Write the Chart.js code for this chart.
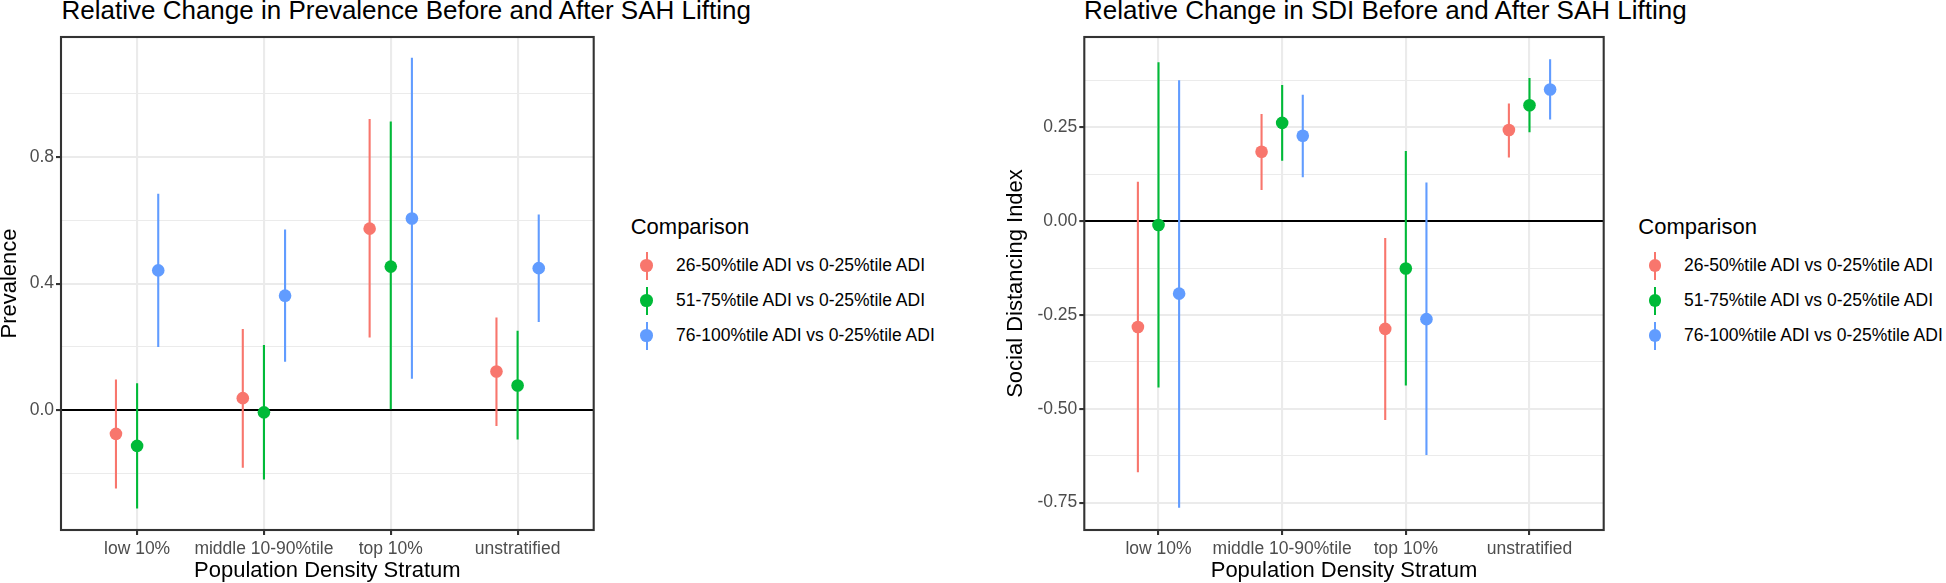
<!DOCTYPE html>
<html>
<head>
<meta charset="utf-8">
<script src="https://cdn.jsdelivr.net/npm/chart.js@4.4.1/dist/chart.umd.min.js"></script>
<style>
  html, body { margin:0; padding:0; background:#fff; width:1946px; height:583px; overflow:hidden; position:relative;
    font-family:"Liberation Sans", Arial, Helvetica, sans-serif; }
  canvas { position:absolute; top:0; }
  #c1 { left:0; }
  #c2 { left:1000px; }
  .ptitle { position:absolute; font-size:26px; line-height:26px; white-space:nowrap; color:#000; }
  .lgtitle { position:absolute; font-size:22px; line-height:22px; white-space:nowrap; color:#000; }
  .lglabel { position:absolute; font-size:17.5px; line-height:17.5px; white-space:nowrap; color:#000; }
  .kline { position:absolute; width:2.1px; height:28px; }
  .kdot { position:absolute; width:12.6px; height:12.6px; border-radius:50%; }
</style>
</head>
<body>
<div class="ptitle" style="left:61.5px; top:-3.5px;">Relative Change in Prevalence Before and After SAH Lifting</div>
<div class="ptitle" style="left:1084px; top:-3.5px;">Relative Change in SDI Before and After SAH Lifting</div>
<canvas id="c1" width="600" height="583"></canvas>
<canvas id="c2" width="610" height="583"></canvas>
<div id="leg1"></div>
<div id="leg2"></div>
<script>
// ---------- data ----------
const categories = ['low 10%', 'middle 10-90%tile', 'top 10%', 'unstratified'];
const comparisons = ['26-50%tile ADI vs 0-25%tile ADI', '51-75%tile ADI vs 0-25%tile ADI', '76-100%tile ADI vs 0-25%tile ADI'];
const comparisonColors = ['#F8766D', '#00BA38', '#619CFF'];

// Prevalence panel
const prevEst26 = [-0.075, 0.038, 0.574, 0.122];
const prevLo26  = [-0.248, -0.182, 0.230, -0.050];
const prevHi26  = [0.097, 0.257, 0.921, 0.293];
const prevEst51 = [-0.113, -0.007, 0.454, 0.078];
const prevLo51  = [-0.311, -0.219, 0.003, -0.093];
const prevHi51  = [0.085, 0.206, 0.913, 0.251];
const prevEst76 = [0.442, 0.362, 0.606, 0.449];
const prevLo76  = [0.200, 0.153, 0.099, 0.279];
const prevHi76  = [0.684, 0.571, 1.114, 0.619];
const prevTicks = [-0.2, 0, 0.2, 0.4, 0.6, 0.8, 1.0];
const prevTickLabels = ['', '0.0', '', '0.4', '', '0.8', ''];
const prevRange = [-0.379, 1.180];

// SDI panel
const sdiEst26 = [-0.282, 0.185, -0.287, 0.243];
const sdiLo26  = [-0.669, 0.083, -0.530, 0.170];
const sdiHi26  = [0.105, 0.286, -0.045, 0.314];
const sdiEst51 = [-0.010, 0.262, -0.126, 0.309];
const sdiLo51  = [-0.443, 0.161, -0.438, 0.237];
const sdiHi51  = [0.424, 0.363, 0.187, 0.382];
const sdiEst76 = [-0.193, 0.228, -0.261, 0.351];
const sdiLo76  = [-0.764, 0.117, -0.623, 0.271];
const sdiHi76  = [0.376, 0.337, 0.103, 0.432];
const sdiTicks = [-0.75, -0.625, -0.5, -0.375, -0.25, -0.125, 0, 0.125, 0.25, 0.375];
const sdiTickLabels = ['-0.75', '', '-0.50', '', '-0.25', '', '0.00', '', '0.25', ''];
const sdiRange = [-0.823, 0.491];

// ---------- chart building ----------
Chart.defaults.font.family = '"Liberation Sans", Arial, Helvetica, sans-serif';
const DODGE = [-1/6, 0, 1/6];

function buildDatasets(est, lo, hi) {
  const pts = [], bars = [];
  est.forEach((series, s) => {
    const xOf = i => i + 1 + DODGE[s];
    pts.push({
      type: 'scatter', label: comparisons[s],
      data: series.map((v, i) => ({ x: xOf(i), y: v })),
      backgroundColor: comparisonColors[s], borderWidth: 0,
      pointRadius: 6.3, pointHoverRadius: 6.3, order: 0
    });
    const d = [];
    lo[s].forEach((v, i) => { d.push({ x: xOf(i), y: v }, { x: xOf(i), y: hi[s][i] }, { x: xOf(i), y: null }); });
    bars.push({
      type: 'line', label: comparisons[s] + ' CI', data: d,
      borderColor: comparisonColors[s], borderWidth: 2.1, borderCapStyle: 'butt',
      pointRadius: 0, pointHoverRadius: 0, spanGaps: false, fill: false, order: 1
    });
  });
  return pts.concat(bars);
}

const panelBorder = {
  id: 'panelBorder',
  afterDatasetsDraw(chart) {
    const { ctx, chartArea: a } = chart;
    ctx.save();
    ctx.strokeStyle = '#333333';
    ctx.lineWidth = 2.1;
    ctx.strokeRect(a.left, a.top, a.right - a.left, a.bottom - a.top);
    ctx.restore();
  }
};

function makeChart(id, datasets, range, ticks, labels, yTitle, yAxisWidth, yTitlePad, padRight) {
  return new Chart(document.getElementById(id), {
    type: 'scatter',
    data: { datasets },
    plugins: [panelBorder],
    options: {
      responsive: false, animation: false, devicePixelRatio: 1,
      layout: { padding: { left: 0, top: 37, right: padRight, bottom: 0 } },
      plugins: { legend: { display: false }, tooltip: { enabled: false }, title: { display: false } },
      scales: {
        x: {
          type: 'linear', min: 0.4, max: 4.6,
          afterBuildTicks: s => { s.ticks = categories.map((c, i) => ({ value: i + 1 })); },
          afterFit: s => { s.height = 53; },
          ticks: { autoSkip: false, maxRotation: 0, minRotation: 0, padding: 4, color: '#4D4D4D',
                   font: { size: 17.5 }, callback: (v, i) => categories[i] },
          grid: { color: '#EBEBEB', lineWidth: 2.1, drawTicks: true, tickLength: 5, tickColor: '#333333', tickWidth: 2.1 },
          border: { display: false },
          title: { display: true, text: 'Population Density Stratum', color: '#000',
                   font: { size: 22, lineHeight: 1 }, padding: { top: 0, bottom: 1 } }
        },
        y: {
          type: 'linear', min: range[0], max: range[1],
          afterBuildTicks: s => { s.ticks = ticks.map(v => ({ value: v })); },
          afterFit: s => { s.width = yAxisWidth; },
          ticks: { padding: 2, color: '#4D4D4D', font: { size: 17.5 }, callback: (v, i) => labels[i] },
          grid: {
            color: c => (c.tick && c.tick.value === 0) ? '#000000' : '#EBEBEB',
            lineWidth: c => (labels[c.index] !== '' ? 2.1 : 1.05),
            drawTicks: true, tickLength: 5,
            tickColor: c => (labels[c.index] !== '' ? '#333333' : 'rgba(0,0,0,0)'),
            tickWidth: 2.1
          },
          border: { display: false },
          title: { display: true, text: yTitle, color: '#000',
                   font: { size: 22, lineHeight: 1 }, padding: { top: yTitlePad, bottom: 0 } }
        }
      }
    }
  });
}

makeChart('c1',
  buildDatasets([prevEst26, prevEst51, prevEst76], [prevLo26, prevLo51, prevLo76], [prevHi26, prevHi51, prevHi76]),
  prevRange, prevTicks, prevTickLabels, 'Prevalence', 61, -1, 3);

makeChart('c2',
  buildDatasets([sdiEst26, sdiEst51, sdiEst76], [sdiLo26, sdiLo51, sdiLo76], [sdiHi26, sdiHi51, sdiHi76]),
  sdiRange, sdiTicks, sdiTickLabels, 'Social Distancing Index', 84.3, 5, 6);

// ---------- HTML legends ----------
function makeLegend(id, titleX, keyX, labelX) {
  const host = document.getElementById(id);
  const t = document.createElement('div');
  t.className = 'lgtitle';
  t.textContent = 'Comparison';
  t.style.left = titleX + 'px';
  t.style.top = (226.7 - 11) + 'px';
  host.appendChild(t);
  comparisons.forEach((name, s) => {
    const cy = 265.7 + 35 * s;
    const ln = document.createElement('div');
    ln.className = 'kline';
    ln.style.left = (keyX - 1.05) + 'px';
    ln.style.top = (cy - 14) + 'px';
    ln.style.background = comparisonColors[s];
    host.appendChild(ln);
    const dot = document.createElement('div');
    dot.className = 'kdot';
    dot.style.left = (keyX - 6.3) + 'px';
    dot.style.top = (cy - 6.3) + 'px';
    dot.style.background = comparisonColors[s];
    host.appendChild(dot);
    const lb = document.createElement('div');
    lb.className = 'lglabel';
    lb.textContent = name;
    lb.style.left = labelX + 'px';
    lb.style.top = (cy - 8.75) + 'px';
    host.appendChild(lb);
  });
}
makeLegend('leg1', 630.7, 646.7, 676);
makeLegend('leg2', 1638.3, 1655, 1684);
</script>
</body>
</html>
